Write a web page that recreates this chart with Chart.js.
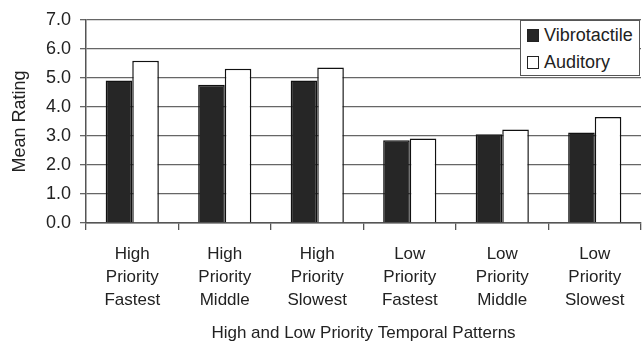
<!DOCTYPE html>
<html>
<head>
<meta charset="utf-8">
<script src="https://cdn.jsdelivr.net/npm/chart.js@4/dist/chart.umd.min.js"></script>
<style>
  html, body { margin: 0; padding: 0; background: #fff; }
  #wrap { position: relative; width: 642px; height: 341px; }
  #legend {
    position: absolute; left: 520px; top: 20px; width: 120px; height: 56px;
    background: #fff; border: 1.5px solid #555; box-sizing: border-box;
    font-family: "Liberation Sans", Arial, sans-serif; font-size: 18px; color: #222;
    padding: 1px 0 0 6px;
  }
  #legend div { height: 27px; line-height: 27px; white-space: nowrap; }
  #legend span.sw {
    display: inline-block; width: 12px; height: 13px; border: 1.3px solid #222;
    box-sizing: border-box; margin-right: 5px; vertical-align: -1px;
  }
</style>
</head>
<body>
<div id="wrap">
  <canvas id="myBarChart" width="642" height="341"></canvas>
  <div id="legend"></div>
</div>
<script>
var categories = [
  ['High', 'Priority', 'Fastest'],
  ['High', 'Priority', 'Middle'],
  ['High', 'Priority', 'Slowest'],
  ['Low', 'Priority', 'Fastest'],
  ['Low', 'Priority', 'Middle'],
  ['Low', 'Priority', 'Slowest']
];
var vibrotactile = [4.91, 4.76, 4.91, 2.85, 3.06, 3.12];
var auditory = [5.59, 5.31, 5.36, 2.91, 3.22, 3.65];
var seriesNames = ['Vibrotactile', 'Auditory'];
var seriesColors = ['#262626', '#ffffff'];

var fontName = '"Liberation Sans", Arial, sans-serif';

var legendDiv = document.getElementById('legend');
seriesNames.forEach(function (name, i) {
  legendDiv.innerHTML += '<div><span class="sw" style="background:' + seriesColors[i] + '"></span>' + name + '</div>';
});

var ctx = document.getElementById('myBarChart');
var myChart = new Chart(ctx, {
  type: 'bar',
  data: {
    labels: categories,
    datasets: [{
      label: seriesNames[0],
      data: vibrotactile,
      backgroundColor: seriesColors[0],
      borderColor: '#111',
      borderWidth: 1.5,
      categoryPercentage: 0.575,
      barPercentage: 1.0
    }, {
      label: seriesNames[1],
      data: auditory,
      backgroundColor: seriesColors[1],
      borderColor: '#111',
      borderWidth: 1.5,
      categoryPercentage: 0.575,
      barPercentage: 1.0
    }]
  },
  options: {
    responsive: false,
    animation: false,
    layout: { padding: { top: 17, right: 1, left: 0, bottom: 0 } },
    plugins: {
      legend: { display: false },
      tooltip: { enabled: false }
    },
    scales: {
      x: {
        grid: {
          offset: true,
          drawOnChartArea: false,
          drawTicks: true,
          tickLength: 7,
          color: '#555',
          lineWidth: 1.3
        },
        border: { color: '#555', width: 1.5 },
        ticks: {
          color: '#222',
          font: { family: fontName, size: 17, lineHeight: 1.35 },
          padding: 13,
          maxRotation: 0,
          autoSkip: false
        },
        title: {
          display: true,
          text: 'High and Low Priority Temporal Patterns',
          color: '#222',
          font: { family: fontName, size: 17, lineHeight: 1.0 },
          padding: { top: 8, bottom: -1 }
        },
        afterFit: function (scale) { scale.height = 118; }
      },
      y: {
        min: 0,
        max: 7,
        grid: {
          color: '#666',
          lineWidth: 1.3,
          tickLength: 6
        },
        border: { color: '#555', width: 1.5 },
        ticks: {
          stepSize: 1,
          color: '#222',
          font: { family: fontName, size: 18 },
          padding: 9,
          callback: function (v) { return v.toFixed(1); }
        },
        title: {
          display: true,
          text: 'Mean Rating',
          color: '#222',
          font: { family: fontName, size: 18, lineHeight: 1.0 },
          padding: { top: 11, bottom: 0 }
        },
        afterFit: function (scale) { scale.width = 86; }
      }
    }
  }
});
</script>
</body>
</html>
